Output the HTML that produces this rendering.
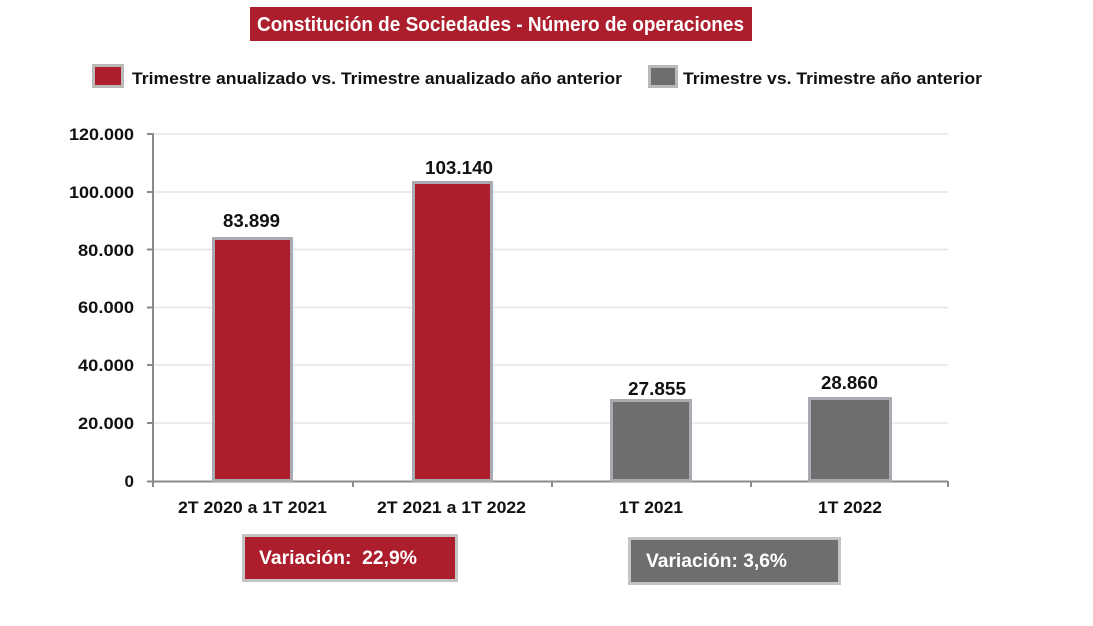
<!DOCTYPE html>
<html><head><meta charset="utf-8"><style>
html,body{margin:0;padding:0;background:#fff;}
svg{display:block;}
text{font-family:"Liberation Sans",Arial,sans-serif;font-weight:bold;}
</style></head><body>
<svg width="1093" height="626" viewBox="0 0 1093 626" xmlns="http://www.w3.org/2000/svg">
<!-- title -->
<rect x="250" y="7" width="502" height="34" fill="#AD1E2D"/>
<text x="257" y="31" font-size="20" fill="#fff" textLength="487" lengthAdjust="spacingAndGlyphs">Constitución de Sociedades - Número de operaciones</text>
<!-- legend -->
<rect x="93.5" y="65.5" width="29" height="21" fill="#AD1E2D" stroke="#B9B9B9" stroke-width="3"/>
<text x="132" y="84" font-size="17" fill="#111" textLength="490" lengthAdjust="spacingAndGlyphs">Trimestre anualizado vs. Trimestre anualizado año anterior</text>
<rect x="649.5" y="66.5" width="27" height="20" fill="#6E6E6E" stroke="#B9B9B9" stroke-width="3"/>
<text x="683" y="84" font-size="17" fill="#111" textLength="299" lengthAdjust="spacingAndGlyphs">Trimestre vs. Trimestre año anterior</text>
<!-- grid -->
<g stroke="#E6E6E6" stroke-width="1.5">
<line x1="153" y1="134" x2="948" y2="134"/>
<line x1="153" y1="192" x2="948" y2="192"/>
<line x1="153" y1="249.5" x2="948" y2="249.5"/>
<line x1="153" y1="307.5" x2="948" y2="307.5"/>
<line x1="153" y1="365" x2="948" y2="365"/>
<line x1="153" y1="423" x2="948" y2="423"/>
</g>
<!-- axes -->
<g stroke="#8A8A8A" stroke-width="2">
<line x1="153" y1="133" x2="153" y2="487"/>
<line x1="147" y1="481.5" x2="948" y2="481.5"/>
<line x1="147" y1="134" x2="153" y2="134"/>
<line x1="147" y1="192" x2="153" y2="192"/>
<line x1="147" y1="249.5" x2="153" y2="249.5"/>
<line x1="147" y1="307.5" x2="153" y2="307.5"/>
<line x1="147" y1="365" x2="153" y2="365"/>
<line x1="147" y1="423" x2="153" y2="423"/>
<line x1="353" y1="481" x2="353" y2="487"/>
<line x1="552" y1="481" x2="552" y2="487"/>
<line x1="751" y1="481" x2="751" y2="487"/>
<line x1="948" y1="481" x2="948" y2="487"/>
</g>
<!-- y labels -->
<g font-size="17" fill="#111" text-anchor="end">
<text x="134" y="140" textLength="65" lengthAdjust="spacingAndGlyphs">120.000</text>
<text x="134" y="198" textLength="65" lengthAdjust="spacingAndGlyphs">100.000</text>
<text x="134" y="256" textLength="56" lengthAdjust="spacingAndGlyphs">80.000</text>
<text x="134" y="313" textLength="56" lengthAdjust="spacingAndGlyphs">60.000</text>
<text x="134" y="371" textLength="56" lengthAdjust="spacingAndGlyphs">40.000</text>
<text x="134" y="429" textLength="56" lengthAdjust="spacingAndGlyphs">20.000</text>
<text x="134" y="487">0</text>
</g>
<!-- bars -->
<g stroke="#A8ACB0" stroke-width="3">
<rect x="213.5" y="238.5" width="78" height="242" fill="#AD1E2D"/>
<rect x="413.5" y="182.5" width="78" height="298" fill="#AD1E2D"/>
<rect x="611.5" y="400.5" width="79" height="80" fill="#6E6E6E"/>
<rect x="809.5" y="398.5" width="81" height="82" fill="#6E6E6E"/>
</g>
<!-- value labels -->
<g font-size="18" fill="#111">
<text x="223" y="227" textLength="57" lengthAdjust="spacingAndGlyphs">83.899</text>
<text x="425" y="174" textLength="68" lengthAdjust="spacingAndGlyphs">103.140</text>
<text x="628" y="395" textLength="58" lengthAdjust="spacingAndGlyphs">27.855</text>
<text x="821" y="389" textLength="57" lengthAdjust="spacingAndGlyphs">28.860</text>
</g>
<!-- x labels -->
<g font-size="17" fill="#111">
<text x="178" y="513" textLength="149" lengthAdjust="spacingAndGlyphs">2T 2020 a 1T 2021</text>
<text x="377" y="513" textLength="149" lengthAdjust="spacingAndGlyphs">2T 2021 a 1T 2022</text>
<text x="619" y="513" textLength="64" lengthAdjust="spacingAndGlyphs">1T 2021</text>
<text x="818" y="513" textLength="64" lengthAdjust="spacingAndGlyphs">1T 2022</text>
</g>
<!-- variation boxes -->
<rect x="243.5" y="535.5" width="213" height="45" fill="#AD1E2D" stroke="#C4C4C4" stroke-width="3"/>
<text x="259" y="564" font-size="19" fill="#fff" textLength="158" lengthAdjust="spacingAndGlyphs">Variación:&#160; 22,9%</text>
<rect x="629.5" y="538.5" width="210" height="45" fill="#6E6E6E" stroke="#C4C4C4" stroke-width="3"/>
<text x="646" y="567" font-size="19" fill="#fff" textLength="141" lengthAdjust="spacingAndGlyphs">Variación: 3,6%</text>
</svg>
</body></html>
